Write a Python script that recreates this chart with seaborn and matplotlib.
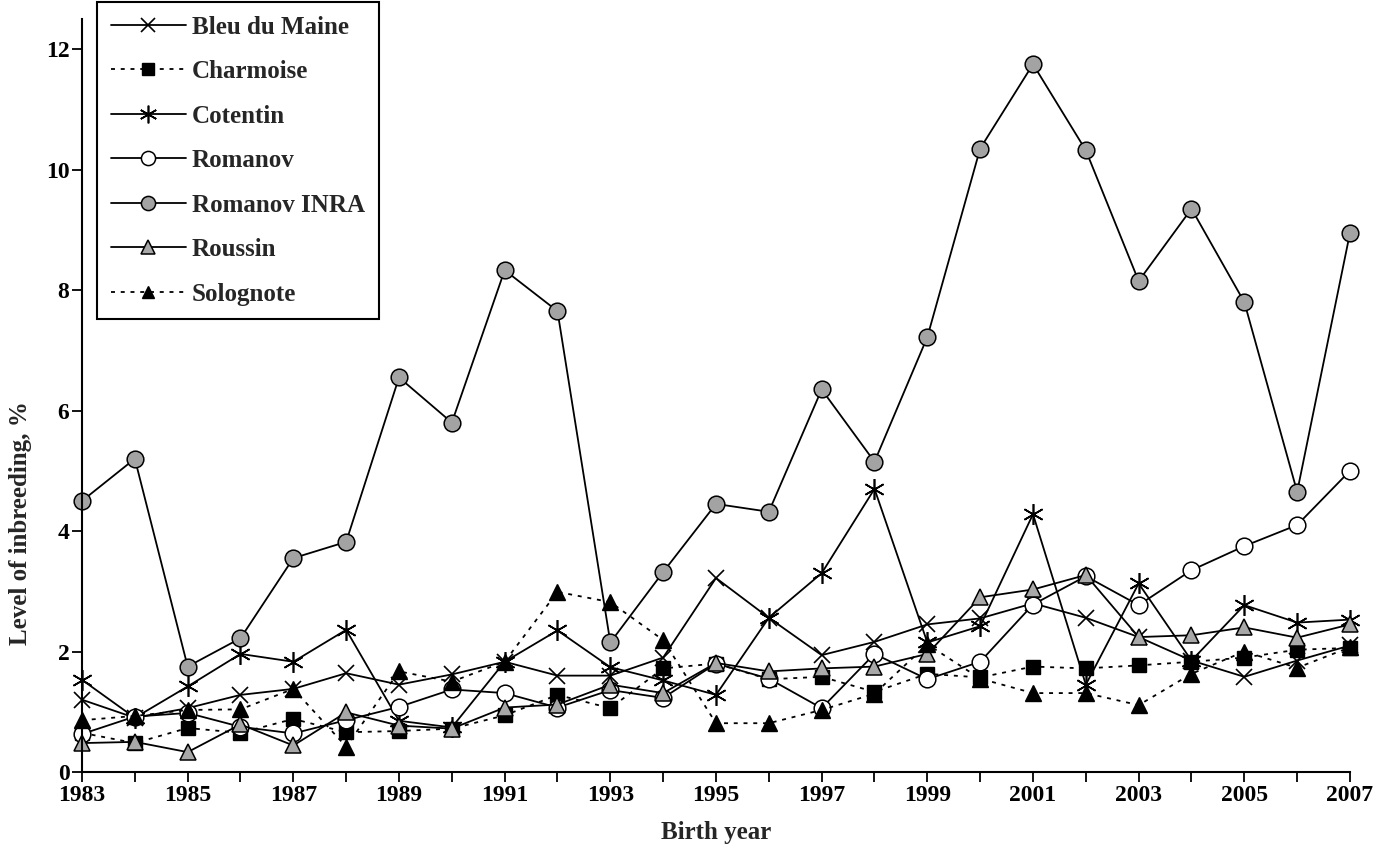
import matplotlib
matplotlib.use("Agg")
import matplotlib.pyplot as plt
import seaborn as sns
import pandas as pd

years = list(range(1983, 2008))

bleu_du_maine = [1.20, 0.90, 1.06, 1.28, 1.38, 1.64, 1.45, 1.62, 1.83, 1.60, 1.60, 1.90, 3.22,
                 2.56, 1.94, 2.16, 2.45, 2.55, 2.80, 2.56, 2.24, 1.85, 1.58, 1.85, 2.10]
charmoise = [0.65, 0.48, 0.73, 0.65, 0.88, 0.66, 0.68, 0.72, 0.94, 1.28, 1.06, 1.72, 1.80,
             1.54, 1.58, 1.33, 1.63, 1.57, 1.75, 1.72, 1.77, 1.83, 1.90, 2.03, 2.06]
cotentin = [1.53, 0.90, 1.42, 1.96, 1.83, 2.36, 0.85, 0.74, 1.83, 2.35, 1.74, 1.52, 1.28,
            2.56, 3.30, 4.70, 2.15, 2.42, 4.28, 1.45, 3.13, 1.85, 2.77, 2.48, 2.53]
romanov = [0.63, 0.92, 0.98, 0.75, 0.64, 0.86, 1.08, 1.37, 1.31, 1.07, 1.36, 1.23, 1.80,
           1.55, 1.06, 1.96, 1.54, 1.83, 2.78, 3.25, 2.77, 3.35, 3.75, 4.10, 5.00]
romanov_inra = [4.50, 5.20, 1.75, 2.22, 3.55, 3.82, 6.55, 5.80, 8.33, 7.65, 2.15, 3.32, 4.45,
                4.32, 6.35, 5.15, 7.22, 10.35, 11.75, 10.32, 8.15, 9.35, 7.80, 4.65, 8.95]
roussin = [0.48, 0.50, 0.33, 0.79, 0.44, 0.99, 0.77, 0.72, 1.07, 1.12, 1.45, 1.31, 1.81,
           1.67, 1.72, 1.75, 1.96, 2.90, 3.03, 3.27, 2.24, 2.27, 2.40, 2.23, 2.45]
solognote = [0.86, 0.93, 1.03, 1.04, 1.38, 0.42, 1.67, 1.50, 1.83, 2.99, 2.82, 2.19, 0.81,
             0.81, 1.03, 1.30, 2.12, 1.55, 1.31, 1.31, 1.11, 1.63, 2.00, 1.73, 2.07]

series_names = ["Bleu du Maine", "Charmoise", "Cotentin", "Romanov",
                "Romanov INRA", "Roussin", "Solognote"]
series_values = [bleu_du_maine, charmoise, cotentin, romanov,
                 romanov_inra, roussin, solognote]

styles = {
    "Bleu du Maine": dict(marker="x", mfc="black", ls="-", ms=12, mew=1.2),
    "Charmoise": dict(marker="s", mfc="black", ls=(0, (2.2, 3.2)), ms=10, mew=1.0),
    "Cotentin": dict(marker=(6, 2, 0), mfc="black", ls="-", ms=15, mew=1.2),
    "Romanov": dict(marker="o", mfc="white", ls="-", ms=12, mew=1.1),
    "Romanov INRA": dict(marker="o", mfc="#a3a3a3", ls="-", ms=12, mew=1.1),
    "Roussin": dict(marker="^", mfc="#a8a8a8", ls="-", ms=12, mew=1.1),
    "Solognote": dict(marker="^", mfc="black", ls=(0, (2.2, 3.2)), ms=11, mew=1.0),
}

sns.set_style("white")
plt.rcParams["font.family"] = ["Liberation Serif", "DejaVu Serif"]
plt.rcParams["font.weight"] = "bold"

fig = plt.figure(figsize=(13.9, 8.46), dpi=100)
ax = fig.add_axes([82 / 1390, 74 / 846, 1268 / 1390, (772 - 19) / 846])

for name, vals in zip(series_names, series_values):
    df = pd.DataFrame({"year": years, "value": vals})
    st = styles[name]
    sns.lineplot(data=df, x="year", y="value", ax=ax, color="black",
                 linewidth=1.3, linestyle=st["ls"], marker=st["marker"],
                 markersize=st["ms"], markerfacecolor=st["mfc"],
                 markeredgecolor="black", markeredgewidth=st["mew"],
                 label=name, clip_on=False)

ax.set_xlim(1983, 2007)
ax.set_ylim(0, 12.5)
ax.set_xticks(years)
ax.set_xticklabels([str(y) if (y - 1983) % 2 == 0 else "" for y in years])
ax.set_yticks([0, 2, 4, 6, 8, 10, 12])
ax.set_yticklabels(["0", "2", "4", "6", "8", "10", "12"])
ax.tick_params(axis="both", direction="out", length=7, width=1.3, colors="black",
               labelsize=17, pad=2, bottom=True, left=True)
for lab in ax.get_xticklabels() + ax.get_yticklabels():
    lab.set_fontweight("bold")

for side in ["top", "right"]:
    ax.spines[side].set_visible(False)
for side in ["left", "bottom"]:
    ax.spines[side].set_color("black")
    ax.spines[side].set_linewidth(1.5)

ax.set_xlabel("Birth year", fontsize=18, fontweight="bold")
ax.xaxis.set_label_coords(0.5, -49 / 753)
ax.set_ylabel("Level of inbreeding, %", fontsize=18, fontweight="bold")
ax.yaxis.set_label_coords(-50 / 1268, 0.33)

leg = ax.legend(loc="upper left", bbox_to_anchor=(97 / 1390, 1 - 2 / 846),
                bbox_transform=fig.transFigure, borderaxespad=0,
                frameon=True, fancybox=False, edgecolor="black",
                prop={"family": "Liberation Serif", "weight": "bold", "size": 18},
                handlelength=3.0, handletextpad=0.25, labelspacing=0.86,
                borderpad=0.55)
leg.get_frame().set_linewidth(1.5)
leg.get_frame().set_facecolor("white")
leg.get_frame().set_alpha(1)
for h in leg.legend_handles:
    h.set_markersize(h.get_markersize() * 0.85)

fig.savefig("out.png", dpi=100, facecolor="white")
